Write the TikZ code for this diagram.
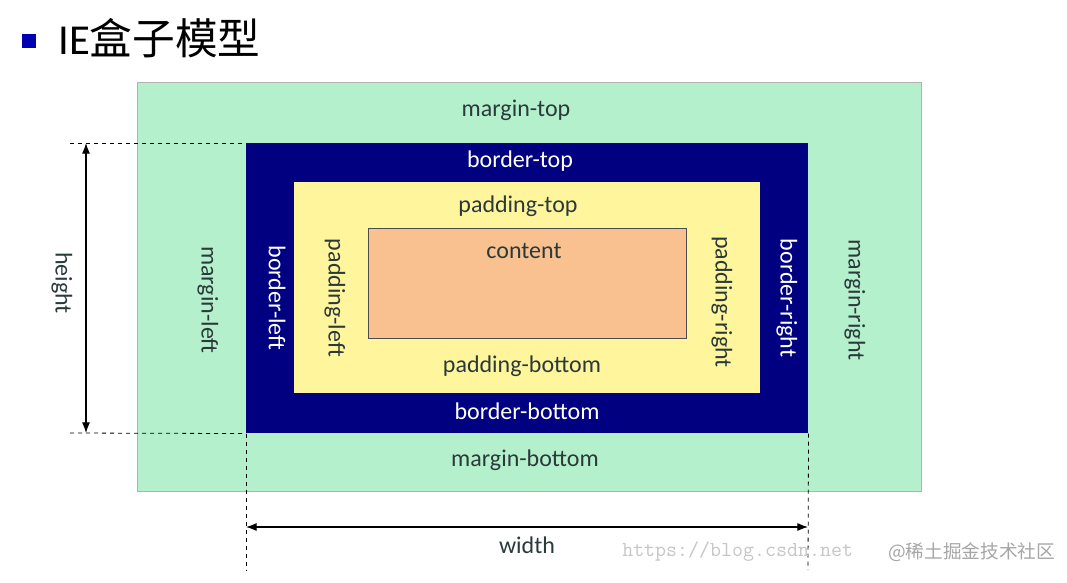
\documentclass[tikz,border=0pt]{standalone}
\usepackage{fontspec}
\setmainfont{Carlito}
\newfontfamily\cjk{Noto Sans CJK SC}
\usetikzlibrary{arrows.meta}
\definecolor{mgreen}{HTML}{B4F0CC}
\definecolor{bnavy}{HTML}{000080}
\definecolor{pyellow}{HTML}{FFF59C}
\definecolor{corange}{HTML}{F8C18F}
\definecolor{txt}{HTML}{2A3A3A}
\tikzset{lbl/.style={font=\fontsize{18}{20}\selectfont,text=txt,inner sep=0pt},
 wlbl/.style={lbl,text=white},
 vert/.style={rotate=-90},
 dim/.style={dashed,black,line width=0.6pt},
 dimarrow/.style={{Latex[length=8pt]}-{Latex[length=8pt]},line width=0.8pt}}
\begin{document}
\begin{tikzpicture}[x=0.75pt,y=-0.75pt]
\useasboundingbox[fill=white] (0,0) rectangle (1067,582);
\fill[blue!70!black] (22,34) rectangle (36,48);
\node[anchor=west,inner sep=0pt] (title) at (58,38) {\fontsize{32}{34}\selectfont IE{\cjk 盒子模型}};
\node[draw=gray!60,fill=mgreen,minimum width=784*0.75pt,minimum height=409*0.75pt,anchor=north west,inner sep=0pt] (margin) at (137,82) {};
\node[fill=bnavy,minimum width=562*0.75pt,minimum height=290*0.75pt,anchor=north west,inner sep=0pt] (border) at (246,143) {};
\node[fill=pyellow,minimum width=466*0.75pt,minimum height=211*0.75pt,anchor=north west,inner sep=0pt] (padding) at (294,182) {};
\node[draw=black!70,fill=corange,minimum width=318*0.75pt,minimum height=110*0.75pt,anchor=north west,inner sep=0pt] (content) at (368,228) {};
\node[lbl] (mt) at (516,110) {margin-top};
\node[wlbl] (bt) at (520,161) {border-top};
\node[lbl] (pt) at (518,206) {padding-top};
\node[lbl] (ct) at (524,251) {content};
\node[lbl] (pb) at (522,366) {padding-bottom};
\node[wlbl] (bb) at (527,411) {border-bottom};
\node[lbl] (mb) at (525,460) {margin-bottom};
\node[lbl,vert] (ml) at (208,300) {margin-left};
\node[wlbl,vert] (bl) at (277,298) {border-left};
\node[lbl,vert] (pl) at (335,298) {padding-left};
\node[lbl,vert] (pr) at (722,302) {padding-right};
\node[wlbl,vert] (br) at (787,298) {border-right};
\node[lbl,vert] (mr) at (855,300) {margin-right};
\node[lbl,vert] (h) at (62,283) {height};
\node[lbl] (w) at (527,545) {width};
\coordinate (htl) at (70,143); \coordinate (hbl) at (70,433);
\coordinate (ha) at (86,143); \coordinate (hb) at (86,433);
\draw[dim] (htl) -- (border.north west);
\draw[dim] (hbl) -- (border.south west);
\draw[dimarrow] (ha) -- (hb);
\coordinate (wl) at (246,570); \coordinate (wr) at (808,570);
\coordinate (wa) at (246,527); \coordinate (wb) at (808,527);
\draw[dim] (border.south west) -- (wl);
\draw[dim] (border.south east) -- (wr);
\draw[dimarrow] (wa) -- (wb);
\node[anchor=west,inner sep=0pt,text=gray!45,font=\ttfamily\fontsize{16}{18}\selectfont] (wm) at (622,552) {https://blog.csdn.net};
\node[anchor=west,inner sep=0pt,text=gray!70,font=\cjk\fontsize{14}{16}\selectfont] (wm2) at (888,552) {@稀土掘金技术社区};
\end{tikzpicture}
\end{document}
